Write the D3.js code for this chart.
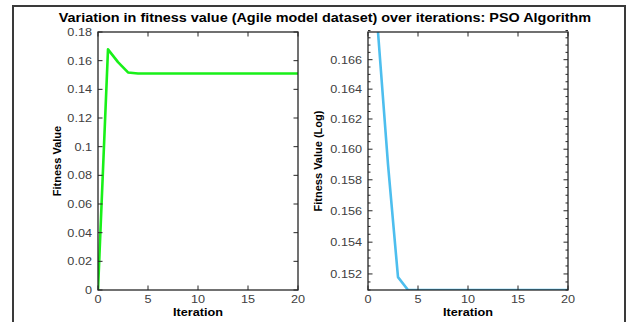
<!DOCTYPE html>
<html>
<head>
<meta charset="utf-8">
<script src="https://cdn.jsdelivr.net/npm/d3@7"></script>
<style>
  html, body { margin: 0; padding: 0; background: #fff; }
  svg { display: block; font-family: 'Liberation Sans', Arial, sans-serif; }
</style>
</head>
<body>
<div id="chart"></div>
<script>
// iterations 0..20 and best fitness per iteration
const iterations = d3.range(0, 21);
const fitness = [0, 0.1679, 0.1590, 0.1518, 0.1510, 0.1510, 0.1510, 0.1510, 0.1510, 0.1510,
  0.1510, 0.1510, 0.1510, 0.1510, 0.1510, 0.1510, 0.1510, 0.1510, 0.1510, 0.1510, 0.1510];

const xTicks = [0, 5, 10, 15, 20];
const yTicksLinear = [0, 0.02, 0.04, 0.06, 0.08, 0.1, 0.12, 0.14, 0.16, 0.18];
const yTicksLog = [0.152, 0.154, 0.156, 0.158, 0.16, 0.162, 0.164, 0.166];
const yMinorLog = d3.range(0.1510, 0.1680, 0.0005).map(v => +v.toFixed(4));

const titleText = 'Variation in fitness value (Agile model dataset) over iterations: PSO Algorithm';

const W = 628, H = 322;
const axisColor = '#262626';
const stretch = 1.15;

const svg = d3.select('#chart').append('svg')
  .attr('width', W)
  .attr('height', H);

// outer figure frame
svg.append('path')
  .attr('d', `M13,${H} L13,6 L625,6 L625,${H}`)
  .attr('fill', 'none')
  .attr('stroke', '#3a3a3a')
  .attr('stroke-width', 2);

const title = svg.append('text')
  .attr('x', 325)
  .attr('y', 22)
  .attr('text-anchor', 'middle')
  .attr('font-size', '12px')
  .attr('font-weight', 'bold')
  .attr('fill', '#000')
  .text(titleText);

function drawPanel(opts) {
  const { left, right, top, bottom, yScaleType, yDomain, yTicks, yMinor, ylabel, ylabelOffset, color, data, fmt } = opts;

  const x = d3.scaleLinear().domain([0, 20]).range([left, right]);
  const y = (yScaleType === 'log' ? d3.scaleLog() : d3.scaleLinear())
    .domain(yDomain).range([bottom, top]);

  const g = svg.append('g');

  const clipId = 'clip-' + left;
  g.append('clipPath').attr('id', clipId)
    .append('rect')
    .attr('x', left).attr('y', top - 2)
    .attr('width', right - left + 2).attr('height', bottom - top + 2);

  const line = d3.line()
    .x(d => x(d[0]))
    .y(d => y(d[1]));

  g.append('path')
    .datum(data)
    .attr('clip-path', `url(#${clipId})`)
    .attr('fill', 'none')
    .attr('stroke', color)
    .attr('stroke-width', 2.6)
    .attr('stroke-linejoin', 'round')
    .attr('d', line);

  // ticks pointing inward on all four sides
  const tickLen = 4.5, minorLen = 2.5;
  const tg = g.append('g').attr('stroke', axisColor).attr('stroke-width', 1);
  xTicks.forEach(t => {
    tg.append('line').attr('x1', x(t)).attr('x2', x(t)).attr('y1', bottom).attr('y2', bottom - tickLen);
    tg.append('line').attr('x1', x(t)).attr('x2', x(t)).attr('y1', top).attr('y2', top + tickLen);
  });
  yTicks.forEach(t => {
    tg.append('line').attr('x1', left).attr('x2', left + tickLen).attr('y1', y(t)).attr('y2', y(t));
    tg.append('line').attr('x1', right).attr('x2', right - tickLen).attr('y1', y(t)).attr('y2', y(t));
  });
  (yMinor || []).forEach(t => {
    if (yTicks.some(v => Math.abs(v - t) < 1e-6)) return;
    tg.append('line').attr('x1', left).attr('x2', left + minorLen).attr('y1', y(t)).attr('y2', y(t));
    tg.append('line').attr('x1', right).attr('x2', right - minorLen).attr('y1', y(t)).attr('y2', y(t));
  });

  // box
  g.append('rect')
    .attr('x', left).attr('y', top)
    .attr('width', right - left).attr('height', bottom - top)
    .attr('fill', 'none')
    .attr('stroke', axisColor)
    .attr('stroke-width', 1.3);

  // tick labels
  g.selectAll('.xl').data(xTicks).join('text')
    .attr('class', 'stretch')
    .attr('x', d => x(d))
    .attr('y', bottom + 13)
    .attr('text-anchor', 'middle')
    .attr('font-size', '11px')
    .attr('fill', '#404040')
    .text(d => d);

  g.selectAll('.yl').data(yTicks).join('text')
    .attr('class', 'stretch')
    .attr('x', left - 6)
    .attr('y', d => y(d) + 4)
    .attr('text-anchor', 'end')
    .attr('font-size', '11px')
    .attr('fill', '#404040')
    .text(fmt);

  g.append('text')
    .attr('class', 'stretch')
    .attr('x', (left + right) / 2)
    .attr('y', bottom + 26)
    .attr('text-anchor', 'middle')
    .attr('font-size', '11px')
    .attr('font-weight', 'bold')
    .attr('fill', '#000')
    .text('Iteration');

  g.append('text')
    .attr('transform', `translate(${left - ylabelOffset},${(top + bottom) / 2}) rotate(-90)`)
    .attr('text-anchor', 'middle')
    .attr('font-size', '11px')
    .attr('font-weight', 'bold')
    .attr('fill', '#000')
    .text(ylabel);
}

const allPoints = iterations.map((it, i) => [it, fitness[i]]);
const positivePoints = allPoints.filter(d => d[1] > 0);

drawPanel({
  left: 98, right: 298, top: 32, bottom: 290,
  yScaleType: 'linear',
  yDomain: [0, 0.18],
  yTicks: yTicksLinear,
  ylabel: 'Fitness Value',
  ylabelOffset: 37,
  color: '#19f019',
  data: allPoints,
  fmt: d => d === 0 ? '0' : String(+d.toFixed(2))
});

drawPanel({
  left: 368, right: 568, top: 32, bottom: 290,
  yScaleType: 'log',
  yDomain: d3.extent(positivePoints, d => d[1]),
  yTicks: yTicksLog,
  yMinor: yMinorLog,
  ylabel: 'Fitness Value (Log)',
  ylabelOffset: 46,
  color: '#4dbeee',
  data: positivePoints,
  fmt: d => d.toFixed(3)
});

// MATLAB export is slightly wider than tall; stretch horizontal text a bit
svg.selectAll('text.stretch').each(function () {
  const w = this.getComputedTextLength();
  d3.select(this).attr('textLength', w * stretch).attr('lengthAdjust', 'spacingAndGlyphs');
});
title.attr('textLength', title.node().getComputedTextLength() * 1.2).attr('lengthAdjust', 'spacingAndGlyphs');
</script>
</body>
</html>
